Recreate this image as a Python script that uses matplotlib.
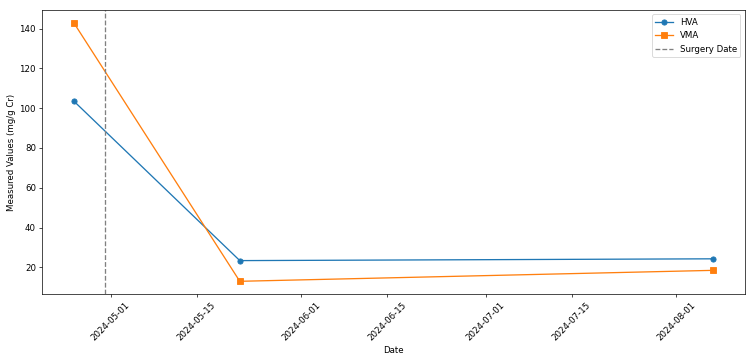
import matplotlib
matplotlib.use("Agg")
import matplotlib.pyplot as plt
import matplotlib.dates as mdates
import pandas as pd

# Data
dates = pd.to_datetime(["2024-04-25", "2024-05-22", "2024-08-07"])
hva = [103.5, 23.4, 24.3]
vma = [142.8, 13.0, 18.5]
surgery_date = pd.Timestamp("2024-04-30")

# 750x361 px, default matplotlib sizes scaled down
fig, ax = plt.subplots(figsize=(12, 5.776), dpi=62.5)
fig.subplots_adjust(left=0.056, right=0.993, top=0.972, bottom=0.185)

ax.plot(dates, hva, marker='o', label='HVA')
ax.plot(dates, vma, marker='s', label='VMA')
ax.axvline(surgery_date, color='gray', linestyle='--', label='Surgery Date')

ax.set_xlabel('Date')
ax.set_ylabel('Measured Values (mg/g Cr)')
ax.xaxis.set_major_locator(mdates.AutoDateLocator())
ax.xaxis.set_major_formatter(mdates.DateFormatter('%Y-%m-%d'))
plt.setp(ax.get_xticklabels(), rotation=45)
ax.legend()

fig.savefig('out.png')
